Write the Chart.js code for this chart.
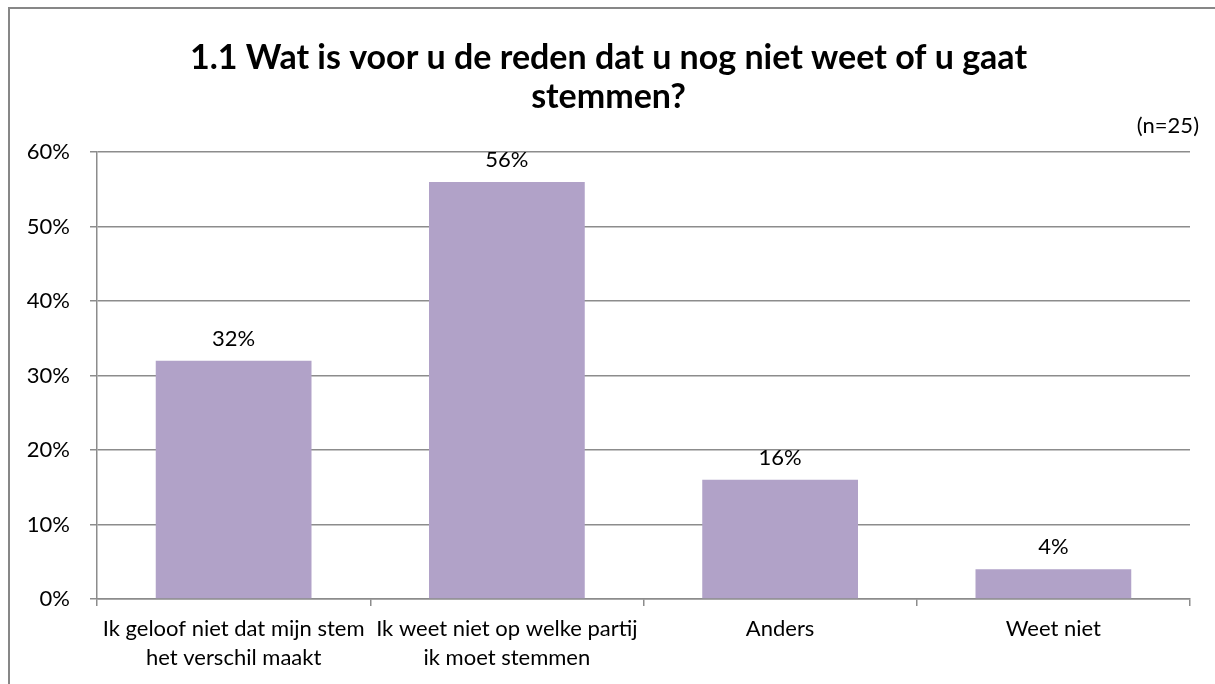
<!DOCTYPE html>
<html>
<head>
<meta charset="utf-8">
<script src="https://cdn.jsdelivr.net/npm/chart.js@4"></script>
<style>
  html, body { margin: 0; padding: 0; background: #fff; }
  #wrap { width: 1215px; height: 684px; position: relative; }
</style>
</head>
<body>
<div id="wrap"><canvas id="chart" width="1215" height="684"></canvas></div>
<script>
const categories = [
  ['Ik geloof niet dat mijn stem', 'het verschil maakt'],
  ['Ik weet niet op welke partij', 'ik moet stemmen'],
  'Anders',
  'Weet niet'
];
const values = [32, 56, 16, 4];
const yTicks = [0, 10, 20, 30, 40, 50, 60];

const titleLines = ['1.1 Wat is voor u de reden dat u nog niet weet of u gaat', 'stemmen?'];
const noteText = '(n=25)';

const FONT = 'Lato, "Open Sans", sans-serif';

// frame + data labels + (n=25)
const extras = {
  id: 'extras',
  beforeDraw(chart) {
    const ctx = chart.ctx;
    ctx.save();
    ctx.fillStyle = '#fff';
    ctx.fillRect(0, 0, chart.width, chart.height);
    ctx.strokeStyle = '#878787';
    ctx.lineWidth = 2;
    ctx.strokeRect(9, 8, chart.width + 10, chart.height + 10);
    ctx.restore();
  },
  afterDatasetsDraw(chart) {
    const ctx = chart.ctx;
    ctx.save();
    ctx.font = '22px ' + FONT;
    ctx.fillStyle = '#000';
    ctx.textAlign = 'center';
    ctx.textBaseline = 'bottom';
    chart.getDatasetMeta(0).data.forEach((bar, i) => {
      ctx.fillText(values[i] + '%', bar.x, bar.y - 11);
    });
    ctx.textAlign = 'right';
    ctx.textBaseline = 'middle';
    ctx.fillText(noteText, 1199, 126);
    ctx.restore();
  }
};

new Chart(document.getElementById('chart'), {
  type: 'bar',
  data: {
    labels: categories,
    datasets: [{
      data: values,
      backgroundColor: '#B1A2C8',
      barPercentage: 0.57,
      categoryPercentage: 1
    }]
  },
  options: {
    responsive: false,
    animation: false,
    layout: { padding: { left: 27, right: 25, top: 10, bottom: 16 } },
    plugins: {
      legend: { display: false },
      tooltip: { enabled: false },
      title: {
        display: true,
        text: titleLines,
        color: '#000',
        font: { family: FONT, size: 34, weight: 'bold', lineHeight: 1.15 },
        padding: { top: 28, bottom: 36 }
      }
    },
    scales: {
      x: {
        offset: true,
        afterFit(axis) {
          axis.paddingLeft = 0;
          axis.paddingRight = 0;
          // keep plot bottom fixed, labels sit a little lower
          axis.height = 69;
        },
        grid: {
          offset: true,
          drawOnChartArea: false,
          drawTicks: true,
          tickLength: 7,
          color: '#8c8c8c',
          lineWidth: 1.5
        },
        border: { color: '#8c8c8c', width: 1.5 },
        ticks: {
          color: '#000',
          font: { family: FONT, size: 22, lineHeight: 1.3 },
          maxRotation: 0,
          autoSkip: false,
          padding: 9
        }
      },
      y: {
        min: 0,
        max: 60,
        afterBuildTicks(axis) {
          axis.ticks = yTicks.map(v => ({ value: v }));
        },
        afterFit(axis) {
          // fixed gutter so the plot starts where the reference does
          axis.width = 70;
        },
        grid: {
          color: '#8c8c8c',
          lineWidth: 1.5,
          tickLength: 7
        },
        border: { color: '#8c8c8c', width: 1.5 },
        ticks: {
          color: '#000',
          font: { family: FONT, size: 22 },
          padding: 20,
          callback: v => v + '%'
        }
      }
    }
  },
  plugins: [extras]
});
</script>
</body>
</html>
